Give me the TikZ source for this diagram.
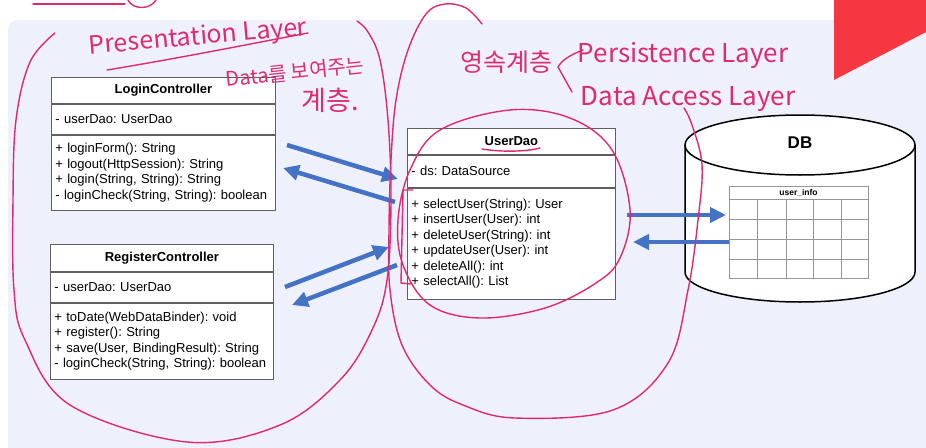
\documentclass[tikz,border=0pt]{standalone}
\usepackage{fontspec}
\setmainfont{Liberation Sans}
\newfontfamily\hand{Noto Sans CJK KR}
\usetikzlibrary{arrows.meta,positioning,calc}
\definecolor{panelbg}{RGB}{238,241,251}
\definecolor{umlgray}{RGB}{95,95,95}
\definecolor{cellgray}{RGB}{150,150,150}
\definecolor{flowblue}{RGB}{68,114,196}
\definecolor{penpink}{RGB}{222,42,115}
\definecolor{slidered}{RGB}{245,55,65}
\frenchspacing

\begin{document}
\begin{tikzpicture}[x=1pt,y=-1pt,
hdr/.style={draw=umlgray, fill=white, line width=0.8pt, anchor=north west,
inner sep=0pt, align=center, font=\bfseries\fontsize{13}{15}\selectfont},
part/.style={draw=umlgray, fill=white, line width=0.8pt, anchor=north west,
inner xsep=4pt, inner ysep=0pt, align=left, font=\fontsize{13}{15.5}\selectfont},
flow/.style={-{Triangle[length=16pt,width=15pt]}, line width=4.5pt, draw=flowblue},
ink/.style={draw=penpink, line width=1.4pt, line cap=round, line join=round},
note/.style={text=penpink, inner sep=0pt, font=\hand\fontsize{24}{24}\selectfont},
db/.style={draw=black, line width=1.5pt, fill=white},
cell/.style={draw=cellgray, line width=0.6pt}
]
\useasboundingbox (0,0) rectangle (926,447);
\clip (0,0) rectangle (926,447);

% slide background
\fill[panelbg, rounded corners=10pt] (8,20) rectangle (960,480);
\fill[slidered] (834,0) -- (926,0) -- (926,32) -- (834,80) -- cycle;

% controllers
\node[hdr, text width=224pt, minimum height=26pt] (lcHead) at (51,77) {LoginController};
\node[part, text width=216pt, minimum height=30pt] (lcAttr) at (lcHead.south west) {- userDao: UserDao};
\node[part, text width=216pt, minimum height=75pt] (lcOps) at (lcAttr.south west)
{+ loginForm(): String\\
+ logout(HttpSession): String\\
+ login(String, String): String\\
- loginCheck(String, String): boolean};

\node[hdr, text width=223pt, minimum height=27pt] (rcHead) at (50,244) {RegisterController};
\node[part, text width=215pt, minimum height=30pt] (rcAttr) at (rcHead.south west) {- userDao: UserDao};
\node[part, text width=215pt, minimum height=76pt] (rcOps) at (rcAttr.south west)
{+ toDate(WebDataBinder): void\\
+ register(): String\\
+ save(User, BindingResult): String\\
- loginCheck(String, String): boolean};

% dao
\node[hdr, text width=208pt, minimum height=26pt] (udHead) at (407,128) {UserDao};
\node[part, text width=200pt, minimum height=32pt] (udAttr) at (udHead.south west) {- ds: DataSource};
\node[part, text width=200pt, minimum height=111pt] (udOps) at (udAttr.south west)
{+ selectUser(String): User\\
+ insertUser(User): int\\
+ deleteUser(String): int\\
+ updateUser(User): int\\
+ deleteAll(): int\\
+ selectAll(): List};

% database
\fill[white] (685,145) rectangle (915,272);
\draw[db] (685,145) -- (685,272) arc[start angle=180, end angle=360, x radius=115pt, y radius=30pt] -- (915,145);
\draw[db] (800,145) ellipse[x radius=115pt, y radius=30pt];
\node[font=\bfseries\fontsize{17}{17}\selectfont] (dbName) at (800,143) {DB};

\draw[cell, fill=white] (729,186) rectangle (868,278);
\node[font=\bfseries\fontsize{8.5}{9}\selectfont, inner sep=0pt] (tblName) at (798.5,192.5) {user\_info};
\foreach \y in {199,219,239,259} \draw[cell] (729,\y) -- (868,\y);
\foreach \x in {757,786,813,841} \draw[cell] (\x,199) -- (\x,278);

% arrow ends
\coordinate (a1s) at (287,145);  \coordinate (a1e) at (398,179);
\coordinate (a2s) at (395,202);  \coordinate (a2e) at (283,168);
\coordinate (a3s) at (285,287);  \coordinate (a3e) at (389,247);
\coordinate (a4s) at (397,265);  \coordinate (a4e) at (292,305);
\coordinate (a5s) at (627,215);  \coordinate (a5e) at (726,215);
\coordinate (a6s) at (729,242);  \coordinate (a6e) at (633,242);
\draw[flow] (a1s) -- (a1e);
\draw[flow] (a2s) -- (a2e);
\draw[flow] (a3s) -- (a3e);
\draw[flow] (a4s) -- (a4e);
\draw[flow] (a5s) -- (a5e);
\draw[flow] (a6s) -- (a6e);

% handwritten notes
\node[note, rotate=5, font=\hand\fontsize{25}{25}\selectfont] (presLbl) at (198,38) {Presentation Layer};
\draw[ink] (107,70) .. controls (180,58) and (250,44) .. (308,33);
\node[note, rotate=6, font=\hand\fontsize{20}{20}\selectfont] (presNote) at (295,72) {Data를 보여주는};
\node[note, font=\hand\fontsize{27}{27}\selectfont] (presNote2) at (330,100) {계층.};

\node[note, font=\hand\fontsize{25}{25}\selectfont] (persKo) at (506,62) {영속계층};
\draw[ink] (583,50) .. controls (570,55) and (562,60) .. (558,67) -- (572,92);
\node[note, font=\hand\fontsize{26}{26}\selectfont] (persLbl) at (683,55) {Persistence Layer};
\node[note, font=\hand\fontsize{26}{26}\selectfont] (daoLbl) at (688,99) {Data Access Layer};

\draw[ink] (33,4) -- (125,4);
\draw[ink] (128,0) .. controls (133,10) and (150,10) .. (156,0);

% loops
\draw[ink] plot[smooth, tension=0.6] coordinates {(55,33) (30,62) (16,120) (13,200) (14,290) (25,340)
(70,405) (187,442) (280,425) (340,380) (372,330) (387,280) (391,200) (388,120) (380,60) (368,32) (357,21)};
\draw[ink] plot[smooth, tension=0.6] coordinates {(482,24) (466,8) (445,4) (426,14) (408,50) (396,100)
(391,160) (389,230) (390,290) (402,345) (430,385) (463,405) (515,418) (613,410) (668,363) (688,290)
(698,220) (702,165) (692,125) (684,108)};
\draw[ink] plot[smooth cycle, tension=0.6] coordinates {(510,110) (570,118) (612,150) (630,210) (620,258)
(596,283) (545,308) (480,318) (430,305) (403,265) (398,220) (410,170) (440,130)};
\draw[ink] (413,190) -- (403,190) -- (401,283) -- (411,284);
\draw[ink] (482,149) .. controls (500,152) and (525,152) .. (540,148);
\end{tikzpicture}
\end{document}
